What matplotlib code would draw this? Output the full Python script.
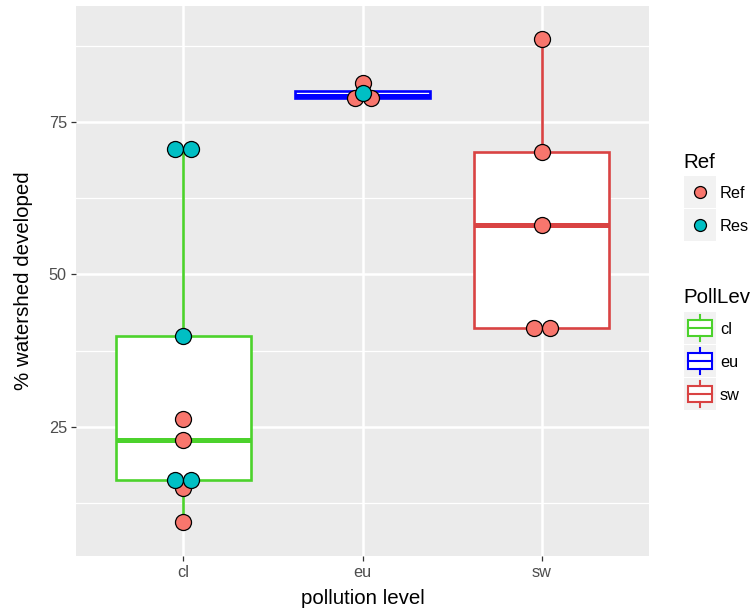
import numpy as np
import matplotlib
matplotlib.use("Agg")
import matplotlib.pyplot as plt
from matplotlib.patches import Rectangle

plt.rcParams['font.family'] = ['Liberation Sans', 'DejaVu Sans']

# ---- data ----
categories = ["cl", "eu", "sw"]
ref_values = {
    "cl": [26.3, 22.8, 14.9, 9.4],
    "eu": [81.3, 78.9, 78.9],
    "sw": [88.6, 70.0, 58.1, 41.2, 41.2],
}
res_values = {
    "cl": [70.5, 70.5, 39.8, 16.3, 16.3],
    "eu": [79.7],
    "sw": [],
}
box_colors = {"cl": "#4CD22C", "eu": "#0000FF", "sw": "#D94343"}
ref_fill = "#F8766D"
res_fill = "#00BFC4"
y_ticks = [25, 50, 75]
y_minor = [12.5, 37.5, 62.5, 87.5]

W, H = 755, 610
fig = plt.figure(figsize=(W / 100, H / 100), dpi=100)
px0, px1, py0, py1 = 76, 649, 6, 556
ax = fig.add_axes([px0 / W, (H - py1) / H, (px1 - px0) / W, (py1 - py0) / H])
ax.set_facecolor("#EBEBEB")
for s in ax.spines.values():
    s.set_visible(False)

ax.set_xlim(0.4, 3.6)
ax.set_ylim(3.8, 94.0)

# grid
for v in y_minor:
    ax.axhline(v, color="white", lw=0.9, zorder=0.5)
for v in y_ticks:
    ax.axhline(v, color="white", lw=1.8, zorder=0.6)
for i in range(len(categories)):
    ax.axvline(i + 1, color="white", lw=1.8, zorder=0.6)

# boxplots
positions = np.arange(1, len(categories) + 1)
for pos, cat in zip(positions, categories):
    vals = ref_values[cat] + res_values[cat]
    col = box_colors[cat]
    ax.boxplot([vals], positions=[pos], widths=0.75, patch_artist=True,
               showcaps=False, showfliers=False, whis=1.5,
               boxprops=dict(facecolor="white", edgecolor=col, linewidth=1.9),
               whiskerprops=dict(color=col, linewidth=1.9),
               medianprops=dict(color=col, linewidth=3.6, solid_capstyle="butt"),
               zorder=2)

# dot positions: identical values in one category are set side by side
dot_w = 16 / ((px1 - px0) / 3.2)  # one dot diameter in data units
def place(cat):
    allv = ref_values[cat] + res_values[cat]
    counts = {}
    for v in allv:
        counts[v] = counts.get(v, 0) + 1
    used = {}
    pos = categories.index(cat) + 1
    out = []
    for grp, lst in (("ref", ref_values[cat]), ("res", res_values[cat])):
        for v in lst:
            n = counts[v]
            k = used.get(v, 0)
            used[v] = k + 1
            out.append((grp, pos + (k - (n - 1) / 2) * dot_w, v))
    return out

pts = []
for cat in categories:
    pts += place(cat)
for grp, fc, z in (("ref", ref_fill, 3), ("res", res_fill, 4)):
    xs = [p[1] for p in pts if p[0] == grp]
    ys = [p[2] for p in pts if p[0] == grp]
    ax.scatter(xs, ys, s=133, facecolor=fc, edgecolor="black", linewidth=0.9, zorder=z)

ax.set_xticks(positions)
ax.set_xticklabels(categories)
ax.set_yticks(y_ticks)
ax.tick_params(axis="both", colors="#333333", length=3.6, width=0.9,
               labelsize=11.7, labelcolor="#4D4D4D", pad=3)
ax.set_xlabel("pollution level", fontsize=14.8, color="black", labelpad=6)
ax.set_ylabel("% watershed developed", fontsize=14.8, color="black", labelpad=11)

# ---- legends (pixel coordinates) ----
lax = fig.add_axes([0, 0, 1, 1], facecolor="none")
lax.set_xlim(0, W)
lax.set_ylim(H, 0)
lax.axis("off")

kx, ks = 684, 32
lax.text(683, 168, "Ref", fontsize=14.8, ha="left", va="baseline")
for ky, lab, fc in ((176, "Ref", ref_fill), (209, "Res", res_fill)):
    lax.add_patch(Rectangle((kx, ky), ks, ks, facecolor="#F2F2F2", edgecolor="none"))
    lax.scatter([kx + ks / 2], [ky + ks / 2], s=74, facecolor=fc, edgecolor="black", linewidth=0.9)
    lax.text(720, ky + ks / 2 + 5.8, lab, fontsize=11.7, ha="left", va="baseline", color="black")

lax.text(683, 303, "PollLev", fontsize=14.8, ha="left", va="baseline")
for ky, cat in zip((312, 345, 378), categories):
    col = box_colors[cat]
    lax.add_patch(Rectangle((kx, ky), ks, ks, facecolor="#F2F2F2", edgecolor="none"))
    cx = kx + ks / 2
    lax.plot([cx, cx], [ky + 0.1 * ks, ky + 0.25 * ks], color=col, lw=1.5)
    lax.plot([cx, cx], [ky + 0.75 * ks, ky + 0.9 * ks], color=col, lw=1.5)
    lax.add_patch(Rectangle((kx + 0.125 * ks, ky + 0.25 * ks), 0.75 * ks, 0.5 * ks,
                            facecolor="white", edgecolor=col, lw=1.5))
    lax.plot([kx + 0.125 * ks, kx + 0.875 * ks], [ky + ks / 2, ky + ks / 2], color=col, lw=1.5)
    lax.text(720, ky + ks / 2 + 5.8, cat, fontsize=11.7, ha="left", va="baseline", color="black")

fig.savefig("out.png", dpi=100)
